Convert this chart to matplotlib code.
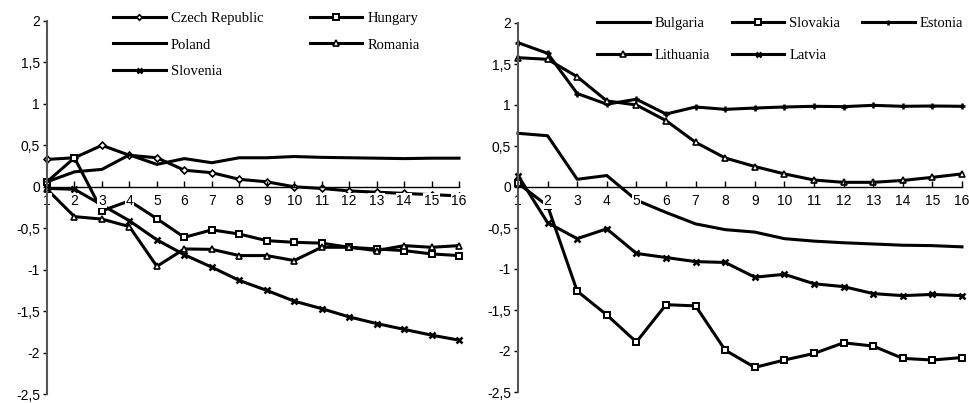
import matplotlib.pyplot as plt
from matplotlib.ticker import FuncFormatter

# periods (horizontal axis)
periods = list(range(1, 17))

# left panel
czech = [0.33, 0.35, 0.50, 0.38, 0.35, 0.20, 0.17, 0.09, 0.06, 0.0, -0.02, -0.05, -0.065, -0.08, -0.095, -0.11]
hungary = [0.06, 0.35, -0.29, -0.17, -0.385, -0.61, -0.52, -0.57, -0.65, -0.67, -0.68, -0.73, -0.75, -0.77, -0.81, -0.83]
poland = [0.06, 0.18, 0.21, 0.385, 0.27, 0.34, 0.29, 0.35, 0.35, 0.365, 0.355, 0.35, 0.345, 0.34, 0.345, 0.345]
romania = [-0.03, -0.36, -0.39, -0.48, -0.96, -0.75, -0.755, -0.83, -0.83, -0.89, -0.73, -0.73, -0.77, -0.71, -0.73, -0.71]
slovenia = [-0.02, -0.03, -0.22, -0.41, -0.64, -0.82, -0.97, -1.13, -1.25, -1.38, -1.47, -1.57, -1.65, -1.72, -1.79, -1.85]

# right panel
bulgaria = [0.655, 0.625, 0.094, 0.14, -0.16, -0.31, -0.45, -0.52, -0.55, -0.63, -0.66, -0.68, -0.695, -0.71, -0.715, -0.73]
slovakia = [0.045, -0.23, -1.27, -1.56, -1.89, -1.435, -1.45, -1.99, -2.20, -2.11, -2.03, -1.90, -1.94, -2.09, -2.11, -2.08]
estonia = [1.76, 1.63, 1.14, 1.01, 1.07, 0.89, 0.976, 0.947, 0.963, 0.976, 0.984, 0.98, 0.996, 0.984, 0.988, 0.984]
lithuania = [1.577, 1.557, 1.345, 1.05, 1.0, 0.81, 0.545, 0.354, 0.25, 0.16, 0.085, 0.057, 0.057, 0.08, 0.118, 0.16]
latvia = [0.14, -0.435, -0.63, -0.51, -0.81, -0.86, -0.91, -0.92, -1.10, -1.065, -1.18, -1.215, -1.30, -1.325, -1.31, -1.325]

y_ticks = [2, 1.5, 1, 0.5, 0, -0.5, -1, -1.5, -2, -2.5]

plt.rcParams["font.family"] = ["Liberation Sans", "DejaVu Sans"]

fig = plt.figure(figsize=(9.7, 4.03), dpi=100)
ax1 = fig.add_axes([47 / 970, 9 / 403, 412 / 970, 373 / 403])
ax2 = fig.add_axes([518 / 970, 11 / 403, 444 / 970, 369 / 403])

comma = FuncFormatter(lambda v, p: ("%g" % v).replace(".", ","))


def style_axis(ax):
    ax.set_xlim(1, 16)
    ax.set_ylim(-2.5, 2)
    ax.set_axisbelow(False)
    for s in ["top", "right"]:
        ax.spines[s].set_visible(False)
    ax.spines["bottom"].set_position(("data", 0))
    ax.spines["bottom"].set_linewidth(1.0)
    ax.spines["left"].set_color("#555555")
    ax.spines["left"].set_linewidth(1.5)
    ax.set_xticks(periods)
    ax.set_yticks(y_ticks)
    ax.yaxis.set_major_formatter(comma)
    ax.tick_params(axis="x", direction="in", length=4, width=1, pad=5, labelsize=10)
    ax.tick_params(axis="y", direction="out", length=3, width=1, pad=2, labelsize=10)
    for lab in ax.get_xticklabels():
        lab.set_bbox(dict(facecolor="white", edgecolor="none", pad=0.5))
    for s in ax.spines.values():
        s.set_zorder(3)


line_kw = dict(color="black", lw=2.2, mec="black", mfc="white", clip_on=False)

h_cz, = ax1.plot(periods, czech, marker="D", ms=3.5, mew=1.2, label="Czech Republic", **line_kw)
h_hu, = ax1.plot(periods, hungary, marker="s", ms=5, mew=1.4, label="Hungary", **line_kw)
h_pl, = ax1.plot(periods, poland, label="Poland", **line_kw)
h_ro, = ax1.plot(periods, romania, marker="^", ms=5, mew=1.2, label="Romania", **line_kw)
h_sl, = ax1.plot(periods, slovenia, marker="x", ms=4.5, mew=1.8, label="Slovenia", **line_kw)
style_axis(ax1)

h_bg, = ax2.plot(periods, bulgaria, label="Bulgaria", **line_kw)
h_sk, = ax2.plot(periods, slovakia, marker="s", ms=5, mew=1.4, label="Slovakia", **line_kw)
h_ee, = ax2.plot(periods, estonia, marker="+", ms=4.5, mew=1.8, label="Estonia", **line_kw)
h_lt, = ax2.plot(periods, lithuania, marker="^", ms=5, mew=1.2, label="Lithuania", **line_kw)
h_lv, = ax2.plot(periods, latvia, marker="x", ms=4.5, mew=1.8, label="Latvia", **line_kw)
style_axis(ax2)

leg_kw = dict(frameon=False, loc="upper left", borderpad=0, borderaxespad=0,
              handlelength=3.6, handletextpad=0.35, markerscale=0.8,
              prop={"family": "Liberation Serif", "size": 10.5})

# legend entries laid out row by row as in the original (matplotlib fills by column)
left_handles = [h_cz, h_pl, h_sl, h_hu, h_ro]
right_handles = [h_bg, h_lt, h_sk, h_lv, h_ee]

ax1.legend(handles=left_handles, ncol=2, columnspacing=3.2, labelspacing=0.9,
           bbox_to_anchor=(113 / 970, 1 - 12 / 403), bbox_transform=fig.transFigure, **leg_kw)
ax2.legend(handles=right_handles, ncol=3, columnspacing=1.5, labelspacing=1.3,
           bbox_to_anchor=(597 / 970, 1 - 17 / 403), bbox_transform=fig.transFigure, **leg_kw)

fig.savefig("out.png", dpi=100)
